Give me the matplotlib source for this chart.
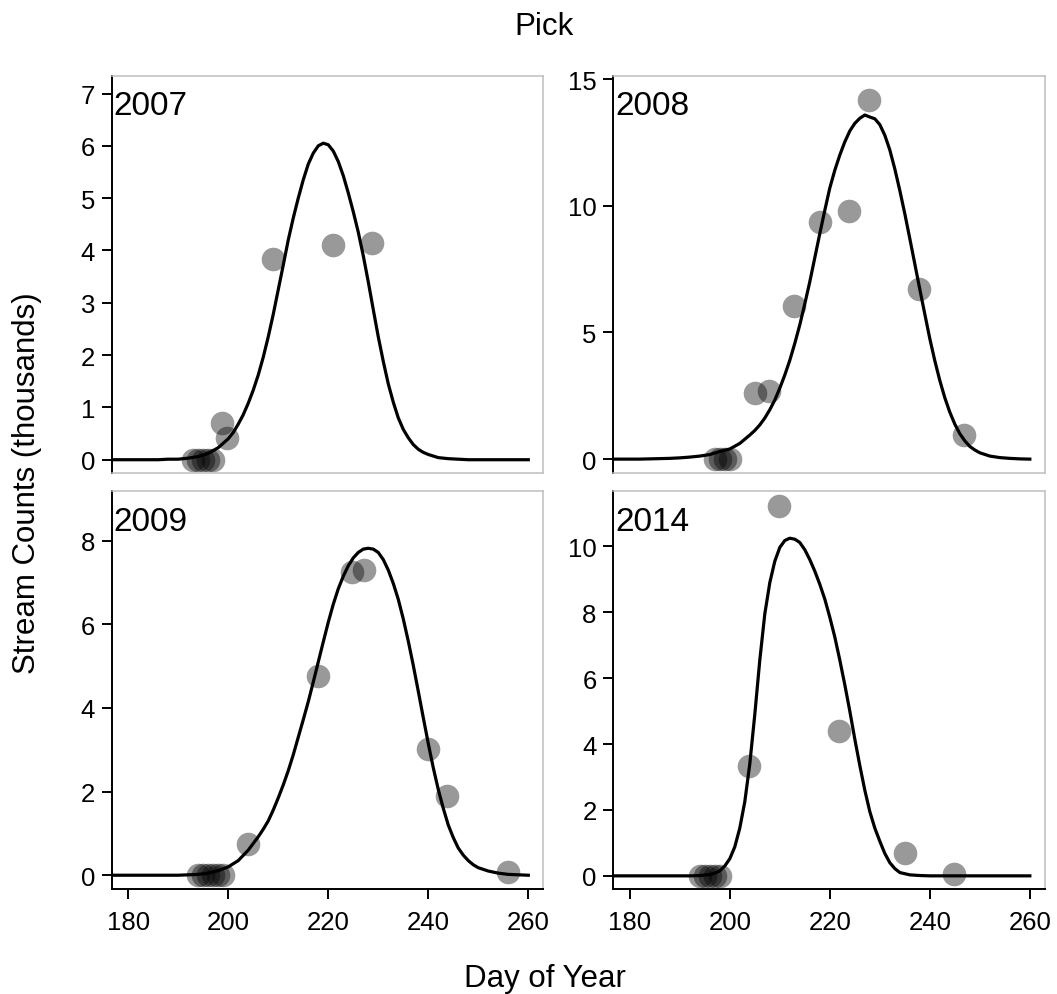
import matplotlib
matplotlib.use('Agg')
import matplotlib.pyplot as plt

plt.rcParams['font.family'] = ['Liberation Sans', 'DejaVu Sans']

years = ['2007', '2008', '2009', '2014']

# observed stream counts (thousands) by day of year
obs_day_2007 = [193, 194, 195, 196, 197, 198.8, 199.8, 209.0, 220.9, 228.8]
obs_cnt_2007 = [0, 0, 0, 0, 0, 0.71, 0.41, 3.83, 4.10, 4.15]

obs_day_2008 = [197, 198, 199, 200, 205.0, 207.8, 212.9, 218.0, 223.9, 227.9, 237.8, 246.8]
obs_cnt_2008 = [0, 0, 0, 0, 2.60, 2.70, 6.06, 9.34, 9.80, 14.19, 6.71, 0.96]

obs_day_2009 = [194, 195, 196, 197, 198, 199, 203.9, 217.9, 224.8, 227.1, 239.9, 243.8, 255.9]
obs_cnt_2009 = [0, 0, 0, 0, 0, 0, 0.74, 4.76, 7.26, 7.31, 3.01, 1.89, 0.08]

obs_day_2014 = [194, 195, 196, 197, 198, 203.9, 209.9, 221.9, 235.0, 244.9]
obs_cnt_2014 = [0, 0, 0, 0, 0, 3.33, 11.23, 4.39, 0.69, 0.07]

# fitted run curves: coarse steps in the tails, daily steps through the run
fit_days_2007 = list(range(176, 200, 2)) + list(range(200, 241)) + list(range(242, 261, 2))
fit_2007 = [0, 0, 0, 0, 0, 0, 0.01, 0.01, 0.03, 0.06, 0.12, 0.23,
            0.40, 0.52, 0.68, 0.86, 1.08, 1.33, 1.62, 1.96, 2.35, 2.78,
            3.25, 3.72, 4.20, 4.62, 5.00, 5.35, 5.65, 5.86, 6.00, 6.05,
            6.02, 5.90, 5.70, 5.43, 5.10, 4.74, 4.35, 3.90, 3.40, 2.87,
            2.35, 1.88, 1.45, 1.10, 0.80, 0.58, 0.42, 0.29, 0.20, 0.14,
            0.10,
            0.04, 0.02, 0.01, 0, 0, 0, 0, 0, 0, 0]

fit_days_2008 = list(range(176, 204, 2)) + list(range(204, 251)) + list(range(252, 261, 2))
fit_2008 = [0, 0, 0, 0, 0.01, 0.02, 0.03, 0.05, 0.08, 0.12, 0.18, 0.30, 0.40, 0.62,
            0.95, 1.13, 1.35, 1.62, 1.95, 2.33, 2.80, 3.32, 3.90, 4.57,
            5.30, 6.13, 7.00, 7.95, 8.90, 9.82, 10.70, 11.40, 12.00, 12.52,
            12.95, 13.25, 13.45, 13.58, 13.50, 13.43, 13.20, 12.78, 12.20, 11.45,
            10.60, 9.68, 8.70, 7.70, 6.70, 5.72, 4.75, 3.88, 3.10, 2.42,
            1.85, 1.38, 1.00, 0.72, 0.50, 0.36, 0.25,
            0.12, 0.06, 0.03, 0.01, 0]

fit_days_2009 = list(range(176, 206, 2)) + list(range(206, 251)) + list(range(252, 261, 2))
fit_2009 = [0, 0, 0, 0, 0, 0, 0, 0, 0.01, 0.02, 0.05, 0.11, 0.20, 0.35, 0.60,
            0.92, 1.10, 1.30, 1.56, 1.85, 2.16, 2.50, 2.88, 3.30, 3.72,
            4.15, 4.62, 5.10, 5.58, 6.05, 6.48, 6.85, 7.15, 7.40, 7.59,
            7.72, 7.80, 7.82, 7.80, 7.72, 7.55, 7.30, 6.98, 6.60, 6.13,
            5.60, 5.02, 4.40, 3.77, 3.15, 2.57, 2.05, 1.60, 1.20, 0.90,
            0.65, 0.48, 0.35, 0.25, 0.18,
            0.10, 0.05, 0.02, 0.01, 0]

fit_days_2014 = list(range(176, 197, 2)) + list(range(197, 234)) + list(range(234, 261, 2))
fit_2014 = [0, 0, 0, 0, 0, 0, 0, 0, 0, 0.01, 0.04,
            0.08, 0.15, 0.30, 0.52, 0.88, 1.45, 2.25, 3.40, 4.90, 6.55,
            7.95, 8.90, 9.55, 9.97, 10.18, 10.25, 10.22, 10.12, 9.90, 9.60,
            9.25, 8.85, 8.40, 7.85, 7.25, 6.55, 5.80, 5.00, 4.15, 3.35,
            2.60, 1.95, 1.45, 1.05, 0.68, 0.40, 0.22,
            0.10, 0.03, 0.01, 0, 0, 0, 0, 0, 0, 0, 0, 0, 0, 0]

x_ticks = [180, 200, 220, 240, 260]

obs_day_map = {'2007': obs_day_2007, '2008': obs_day_2008,
               '2009': obs_day_2009, '2014': obs_day_2014}
obs_cnt_map = {'2007': obs_cnt_2007, '2008': obs_cnt_2008,
               '2009': obs_cnt_2009, '2014': obs_cnt_2014}
fit_day_map = {'2007': fit_days_2007, '2008': fit_days_2008,
               '2009': fit_days_2009, '2014': fit_days_2014}
fit_map = {'2007': fit_2007, '2008': fit_2008,
           '2009': fit_2009, '2014': fit_2014}

ylim_map = {'2007': (-0.26, 7.34), '2008': (-0.56, 15.13),
            '2009': (-0.33, 9.18), '2014': (-0.40, 11.67)}
ytick_map = {'2007': [0, 1, 2, 3, 4, 5, 6, 7], '2008': [0, 5, 10, 15],
             '2009': [0, 2, 4, 6, 8], '2014': [0, 2, 4, 6, 8, 10]}

# axes rectangles in figure fractions
W, H = 0.4083, 0.3996
pos_map = {'2007': [0.1057, 0.5233, W, H], '2008': [0.5802, 0.5233, W, H],
           '2009': [0.1057, 0.1055, W, H], '2014': [0.5802, 0.1055, W, H]}
bottom_row = ['2009', '2014']


def draw():
    fig = plt.figure(figsize=(10.57, 9.95), dpi=100)

    for yr in years:
        ax = fig.add_axes(pos_map[yr])

        ax.plot(obs_day_map[yr], obs_cnt_map[yr], 'o', ms=17, mec='none',
                mfc='black', alpha=0.4, zorder=2)
        ax.plot(fit_day_map[yr], fit_map[yr], c='black', lw=2.3, zorder=3,
                solid_joinstyle='round')

        ax.set_xlim(176.7, 263.0)
        ax.set_ylim(*ylim_map[yr])
        ax.set_yticks(ytick_map[yr])
        ax.set_xticks(x_ticks)

        for side in ['top', 'right', 'bottom', 'left']:
            ax.spines[side].set_color('#BEBEBE')
            ax.spines[side].set_linewidth(1.1)
        ax.spines['left'].set_color('black')
        ax.spines['left'].set_linewidth(1.4)

        ax.tick_params(axis='both', direction='out', length=7, width=1.4,
                       labelsize=18.5, color='black')
        ax.tick_params(axis='y', pad=5)
        ax.tick_params(axis='x', pad=8)

        if yr in bottom_row:
            ax.spines['bottom'].set_color('black')
            ax.spines['bottom'].set_linewidth(1.4)
        else:
            ax.tick_params(axis='x', bottom=False, labelbottom=False)

        ax.text(0.004, 0.904, yr, transform=ax.transAxes, ha='left',
                va='baseline', fontsize=24)

    fig.text(0.5147, 0.9648, 'Pick', ha='center', va='baseline', fontsize=22.5)
    fig.text(0.5156, 0.0083, 'Day of Year', ha='center', va='baseline', fontsize=22.5)
    fig.text(0.026, 0.5146, 'Stream Counts (thousands)', rotation=90,
             ha='center', va='center', fontsize=22.5)

    plt.savefig('out.png', dpi=100)


def main():
    draw()


if __name__ == '__main__':
    main()
